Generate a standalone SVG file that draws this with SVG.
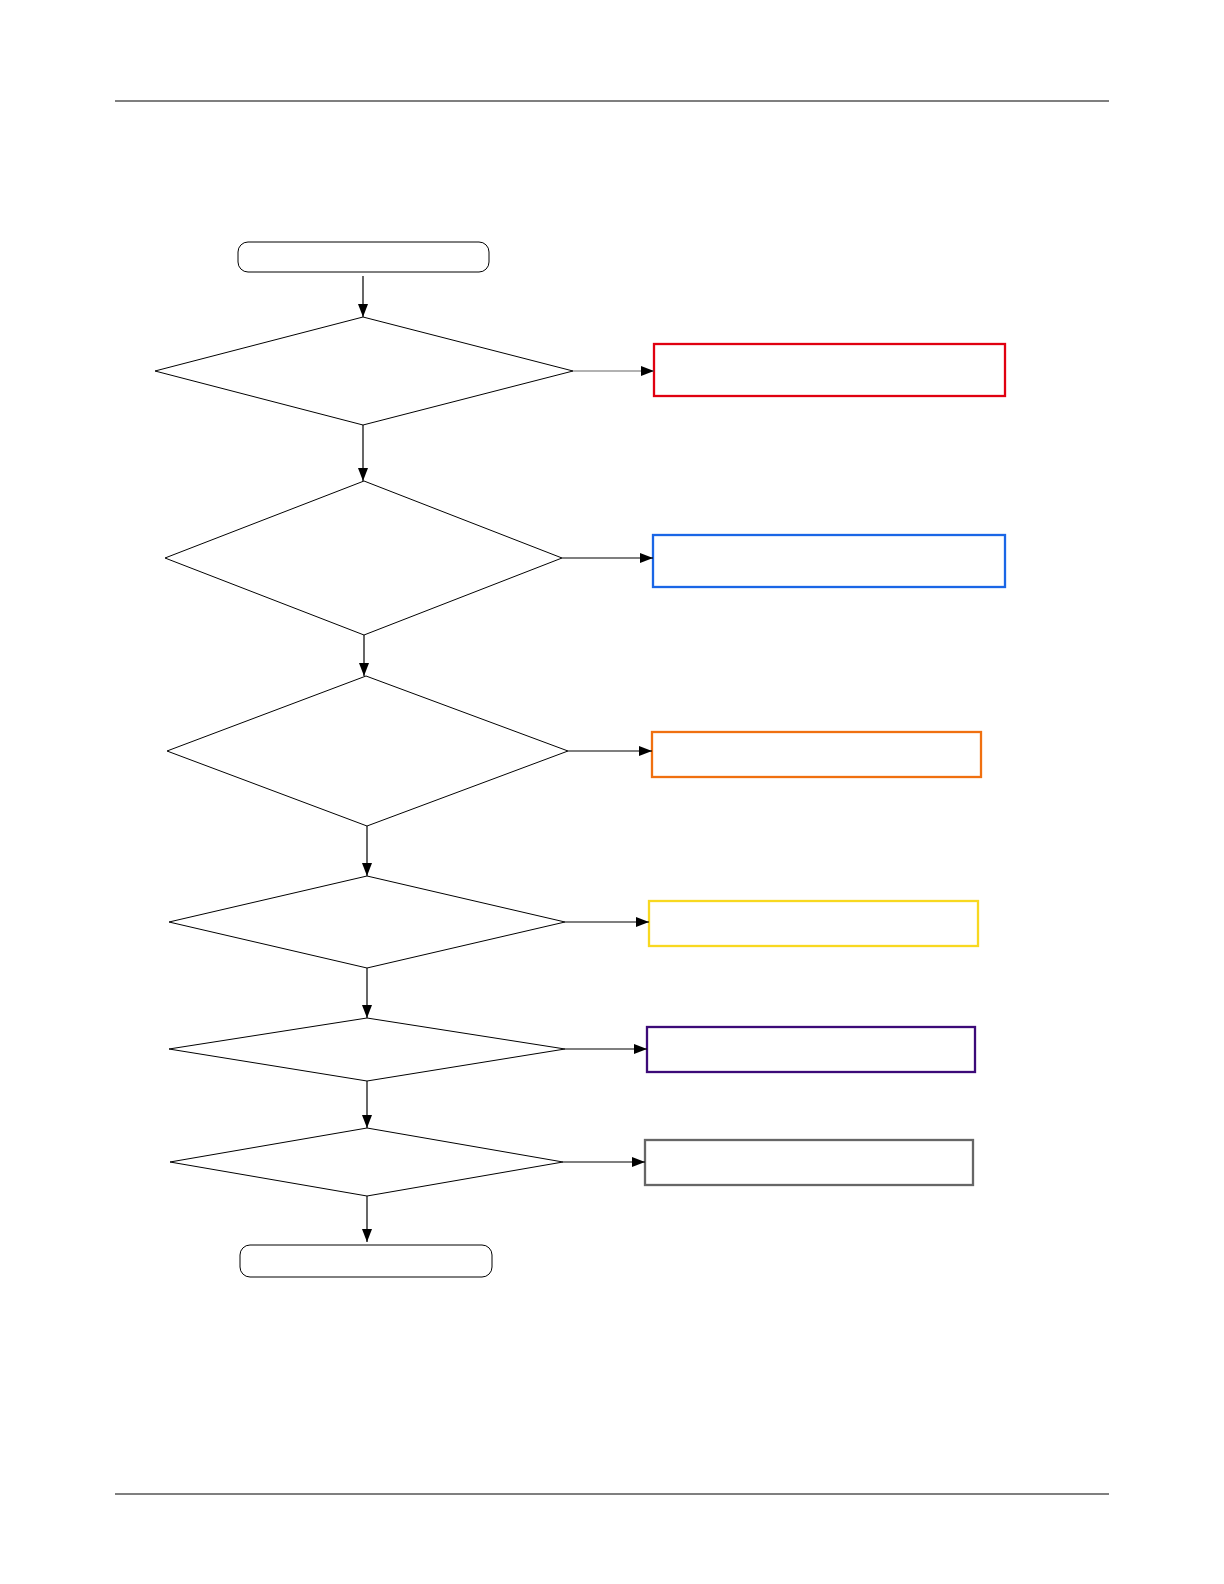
<svg xmlns="http://www.w3.org/2000/svg" width="1224" height="1584" viewBox="0 0 1224 1584">
<style>
.rule{stroke:#000;stroke-width:1.2;fill:none}
.term{fill:#fff;stroke:#000;stroke-width:1}
.dec{fill:#fff;stroke:#000;stroke-width:1}
.box{fill:#fff;stroke-width:2.3}
.conn{stroke:#000;stroke-width:1.2;fill:none;marker-end:url(#ah)}
</style>
<defs>
<marker id="ah" markerUnits="userSpaceOnUse" markerWidth="16" markerHeight="12" refX="13" refY="5" orient="auto">
<path d="M0,0 L13,5 L0,10 Z" fill="#000"/>
</marker>
</defs>
<rect width="1224" height="1584" fill="#fff"/>
<line class="rule" x1="115" y1="101" x2="1109" y2="101"/>
<line class="rule" x1="115" y1="1494" x2="1109" y2="1494"/>
<g id="start"><rect class="term" x="238" y="242" width="251" height="30" rx="10"/></g>
<g id="d1"><polygon class="dec" points="155,371 363,317 573,371 363,425"/></g>
<g id="d2"><polygon class="dec" points="165,558 364,481 562,558 364,635"/></g>
<g id="d3"><polygon class="dec" points="167,751 366,676 568,751 367,826"/></g>
<g id="d4"><polygon class="dec" points="169,922 367,876 565,922 367,968"/></g>
<g id="d5"><polygon class="dec" points="169,1049 367,1018 565,1049 367,1081"/></g>
<g id="d6"><polygon class="dec" points="170,1162 367,1128 563,1162 367,1196"/></g>
<g id="end"><rect class="term" x="240" y="1245" width="252" height="32" rx="10"/></g>
<g id="b1"><rect class="box" x="654" y="344" width="351" height="52" stroke="#e00010"/></g>
<g id="b2"><rect class="box" x="653" y="535" width="352" height="52" stroke="#1a66e6"/></g>
<g id="b3"><rect class="box" x="652" y="732" width="329" height="45" stroke="#f07010"/></g>
<g id="b4"><rect class="box" x="649" y="901" width="329" height="45" stroke="#f8d820"/></g>
<g id="b5"><rect class="box" x="647" y="1027" width="328" height="45" stroke="#3c0a78"/></g>
<g id="b6"><rect class="box" x="645" y="1140" width="328" height="45" stroke="#666666"/></g>
<g id="connectors">
<line class="conn" x1="363" y1="276" x2="363" y2="317"/>
<line class="conn" x1="363" y1="425" x2="363" y2="481"/>
<line class="conn" x1="364" y1="635" x2="364" y2="676"/>
<line class="conn" x1="367" y1="826" x2="367" y2="876"/>
<line class="conn" x1="367" y1="968" x2="367" y2="1018"/>
<line class="conn" x1="367" y1="1081" x2="367" y2="1128"/>
<line class="conn" x1="367" y1="1196" x2="367" y2="1242"/>
<line class="conn" x1="573" y1="371" x2="654" y2="371" style="stroke:#666"/>
<line class="conn" x1="562" y1="558" x2="653" y2="558"/>
<line class="conn" x1="568" y1="751" x2="652" y2="751"/>
<line class="conn" x1="565" y1="922" x2="649" y2="922"/>
<line class="conn" x1="565" y1="1049" x2="647" y2="1049"/>
<line class="conn" x1="563" y1="1162" x2="645" y2="1162"/>
</g>
</svg>
